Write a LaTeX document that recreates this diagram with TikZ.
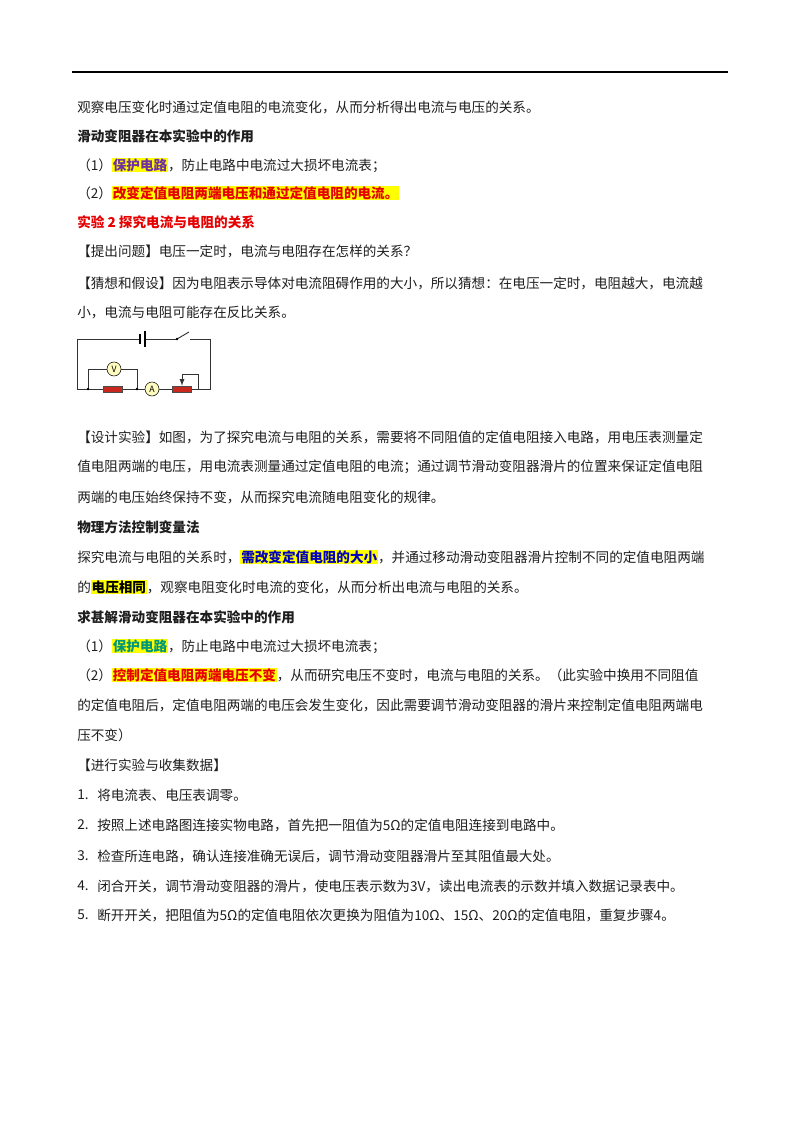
\documentclass[tikz,border=0pt]{standalone}
\usepackage{fontspec}
\setmainfont{Noto Sans CJK SC}
\usetikzlibrary{positioning}
\definecolor{hly}{RGB}{255,255,0}
\definecolor{hred}{RGB}{230,0,0}
\definecolor{hpur}{RGB}{112,48,160}
\definecolor{hblue}{RGB}{0,0,190}
\definecolor{hteal}{RGB}{0,150,120}
\definecolor{txt}{RGB}{30,30,30}
\definecolor{resred}{RGB}{200,40,30}
\newcommand\hlt[2]{{\setlength\fboxsep{0.6pt}\colorbox{hly}{\textbf{\color{#1}#2}}}}
\tikzset{
  line/.style={anchor=west, inner sep=0pt, font=\fontsize{10.2pt}{12pt}\selectfont, text=txt},
  meter/.style={circle, draw, fill=yellow!25, inner sep=0pt, minimum size=10.5pt, font=\fontsize{6.5pt}{6.5pt}\selectfont},
  resbox/.style={draw=black!70, fill=resred, minimum width=14pt, minimum height=4.5pt, inner sep=0pt},
  wire/.style={black!80, line width=0.7pt},
  dot/.style={circle, fill=black, inner sep=0pt, minimum size=2pt}
}
\begin{document}
\begin{tikzpicture}[x=0.75pt, y=-0.75pt]
\useasboundingbox[fill=white] (0,0) rectangle (800,1132);
\draw[line width=0.8pt] (72,72) -- (728,72);

% text lines
\node[line] (l1) at (77,107) {观察电压变化时通过定值电阻的电流变化，从而分析得出电流与电压的关系。};
\node[line] (l2) at (77,136) {\textbf{滑动变阻器在本实验中的作用}};
\node[line] (l3) at (77,165) {（1）\hlt{hpur}{保护电路}，防止电路中电流过大损坏电流表；};
\node[line] (l4) at (77,193) {（2）\hlt{hred}{改变定值电阻两端电压和通过定值电阻的电流。}};
\node[line] (l5) at (77,222) {\textbf{\color{hred}实验 2 探究电流与电阻的关系}};
\node[line] (l6) at (77,251) {【提出问题】电压一定时，电流与电阻存在怎样的关系？};
\node[line] (l7) at (77,283) {【猜想和假设】因为电阻表示导体对电流阻碍作用的大小，所以猜想：在电压一定时，电阻越大，电流越};
\node[line] (l8) at (77,312) {小，电流与电阻可能存在反比关系。};

% circuit
\coordinate (tl) at (77,339);
\coordinate (tr) at (210,339);
\coordinate (bl) at (77,389);
\coordinate (br) at (210,389);
\coordinate (jl) at (88,389);
\coordinate (jr) at (137,389);
\coordinate (pl) at (88,369);
\coordinate (pr) at (137,369);
\coordinate (bat1) at (140,339);
\coordinate (bat2) at (145,339);
\coordinate (swa) at (177,339);
\coordinate (swb) at (190,339);
\coordinate (sl) at (182,374);
\coordinate (sr) at (198,374);
\coordinate (sb) at (198,389);
\node[meter] (V) at (114,369) {V};
\node[meter] (A) at (152,389) {A};
\node[resbox] (R) at (113,389) {};
\node[resbox] (Rp) at (182,389) {};
\draw[wire] (bat1) -- (tl) -- (bl) -- (R.west);
\draw[wire] (R.east) -- (A.west);
\draw[wire] (A.east) -- (Rp.west);
\draw[wire] (Rp.east) -- (br) -- (tr) -- (swb);
\draw[wire] (swa) -- (bat2);
\draw[wire] (swa) -- ++(12,-7);
\draw[line width=0.9pt] (140,334) -- (140,344);
\draw[line width=0.9pt] (145,331) -- (145,347);
\node[dot] (swdot) at (swa) {};
\draw[wire] (jl) -- (pl) -- (V.west);
\draw[wire] (V.east) -- (pr) -- (jr);
\node[dot] (d1) at (jl) {};
\node[dot] (d2) at (jr) {};
\draw[wire, -latex] (sb) -- (sr) -- (sl) -- (Rp.north);

\node[line] (l9) at (77,437) {【设计实验】如图，为了探究电流与电阻的关系，需要将不同阻值的定值电阻接入电路，用电压表测量定};
\node[line] (l10) at (77,467) {值电阻两端的电压，用电流表测量通过定值电阻的电流；通过调节滑动变阻器滑片的位置来保证定值电阻};
\node[line] (l11) at (77,497) {两端的电压始终保持不变，从而探究电流随电阻变化的规律。};
\node[line] (l12) at (77,527) {\textbf{物理方法控制变量法}};
\node[line] (l13) at (77,557) {探究电流与电阻的关系时，\hlt{hblue}{需改变定值电阻的大小}，并通过移动滑动变阻器滑片控制不同的定值电阻两端};
\node[line] (l14) at (77,587) {的\hlt{black}{电压相同}，观察电阻变化时电流的变化，从而分析出电流与电阻的关系。};
\node[line] (l15) at (77,617) {\textbf{求甚解滑动变阻器在本实验中的作用}};
\node[line] (l16) at (77,646) {（1）\hlt{hteal}{保护电路}，防止电路中电流过大损坏电流表；};
\node[line] (l17) at (77,675) {（2）\hlt{hred}{控制定值电阻两端电压不变}，从而研究电压不变时，电流与电阻的关系。（此实验中换用不同阻值};
\node[line] (l18) at (77,705) {的定值电阻后，定值电阻两端的电压会发生变化，因此需要调节滑动变阻器的滑片来控制定值电阻两端电};
\node[line] (l19) at (77,735) {压不变）};
\node[line] (l20) at (77,765) {【进行实验与收集数据】};
\foreach \n/\y/\t in {1/795/将电流表、电压表调零。,
  2/825/按照上述电路图连接实物电路，首先把一阻值为5Ω的定值电阻连接到电路中。,
  3/856/检查所连电路，确认连接准确无误后，调节滑动变阻器滑片至其阻值最大处。,
  4/886/闭合开关，调节滑动变阻器的滑片，使电压表示数为3V，读出电流表的示数并填入数据记录表中。,
  5/915/断开开关，把阻值为5Ω的定值电阻依次更换为阻值为10Ω、15Ω、20Ω的定值电阻，重复步骤4。}{
  \node[line] (n\n) at (77,\y) {\n.};
  \node[line] (s\n) at (97,\y) {\t};
}
\end{tikzpicture}
\end{document}
